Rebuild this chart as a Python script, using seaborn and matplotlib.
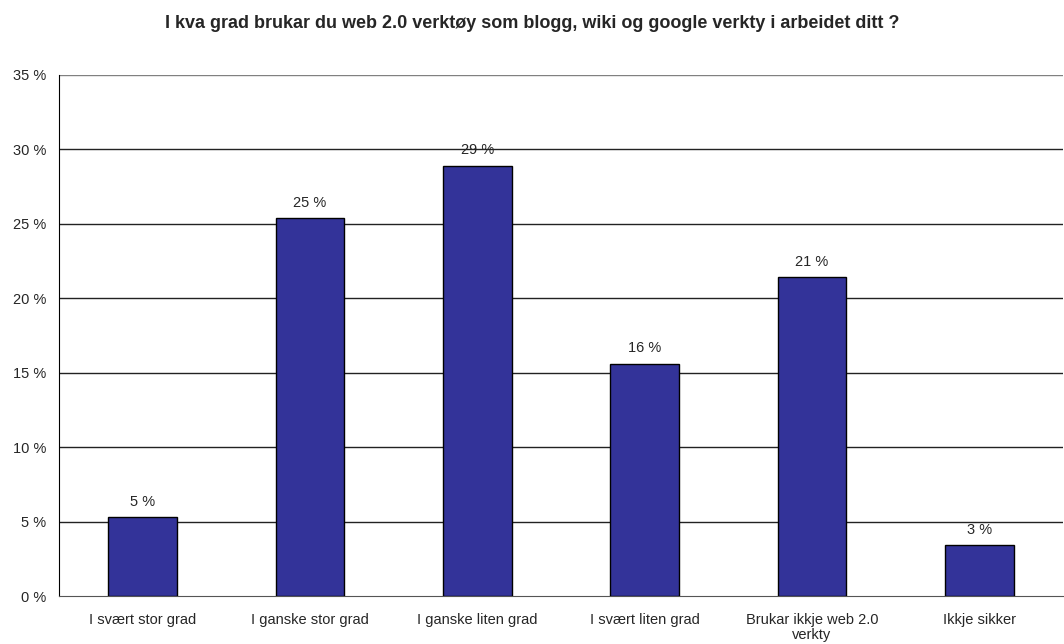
import matplotlib
matplotlib.use("Agg")
import matplotlib.pyplot as plt
import seaborn as sns
import pandas as pd

categories = ["I svært stor grad", "I ganske stor grad", "I ganske liten grad",
              "I svært liten grad", "Brukar ikkje web 2.0\nverkty", "Ikkje sikker"]
values = [5.3, 25.4, 28.9, 15.6, 21.4, 3.4]
y_ticks = [0, 5, 10, 15, 20, 25, 30, 35]
title = "I kva grad brukar du web 2.0 verktøy som blogg, wiki og google verkty i arbeidet ditt ?"

sns.set_style("white")
plt.rcParams["font.family"] = ["Liberation Sans", "DejaVu Sans"]

df = pd.DataFrame({"cat": categories, "val": values})

fig = plt.figure(figsize=(10.64, 6.44), dpi=100)
ax = fig.add_axes([59 / 1064, 1 - 596 / 644, 1004 / 1064, (596 - 75) / 644])

sns.barplot(data=df, x="cat", y="val", color="#333399", edgecolor="black",
            linewidth=1, width=0.41, saturation=1, ax=ax, zorder=3)

ax.set_ylim(0, 35)
ax.set_xlim(-0.5, len(categories) - 0.5)
ax.set_yticks(y_ticks)
ax.set_yticklabels([f"{t} %" for t in y_ticks], fontsize=10.5)
for t in y_ticks[1:]:
    ax.axhline(t, color="#222222" if t < 35 else "#808080", linewidth=1, zorder=1)

# ticks at category boundaries, labels centred
ax.set_xticks([i - 0.5 for i in range(len(categories) + 1)])
ax.set_xticklabels([])
ax.set_xticks(range(len(categories)), minor=True)
ax.set_xticklabels(categories, minor=True, fontsize=10.5, linespacing=1.1)
ax.tick_params(axis="x", which="major", length=4, direction="out", color="#555555")
ax.tick_params(axis="x", which="minor", length=0, pad=12)
ax.tick_params(axis="y", length=5, direction="out", pad=4)
ax.set_xlabel("")
ax.set_ylabel("")

for s in ["top", "right"]:
    ax.spines[s].set_visible(False)
ax.spines["left"].set_color("black")
ax.spines["bottom"].set_color("#555555")

ax.bar_label(ax.containers[0], labels=[f"{v:.0f} %" for v in values],
             padding=6, fontsize=10.5)

fig.text(0.5, 1 - 23 / 644, title, ha="center", va="center",
         fontsize=13, fontweight="bold")

fig.savefig("out.png", dpi=100, facecolor="white")
